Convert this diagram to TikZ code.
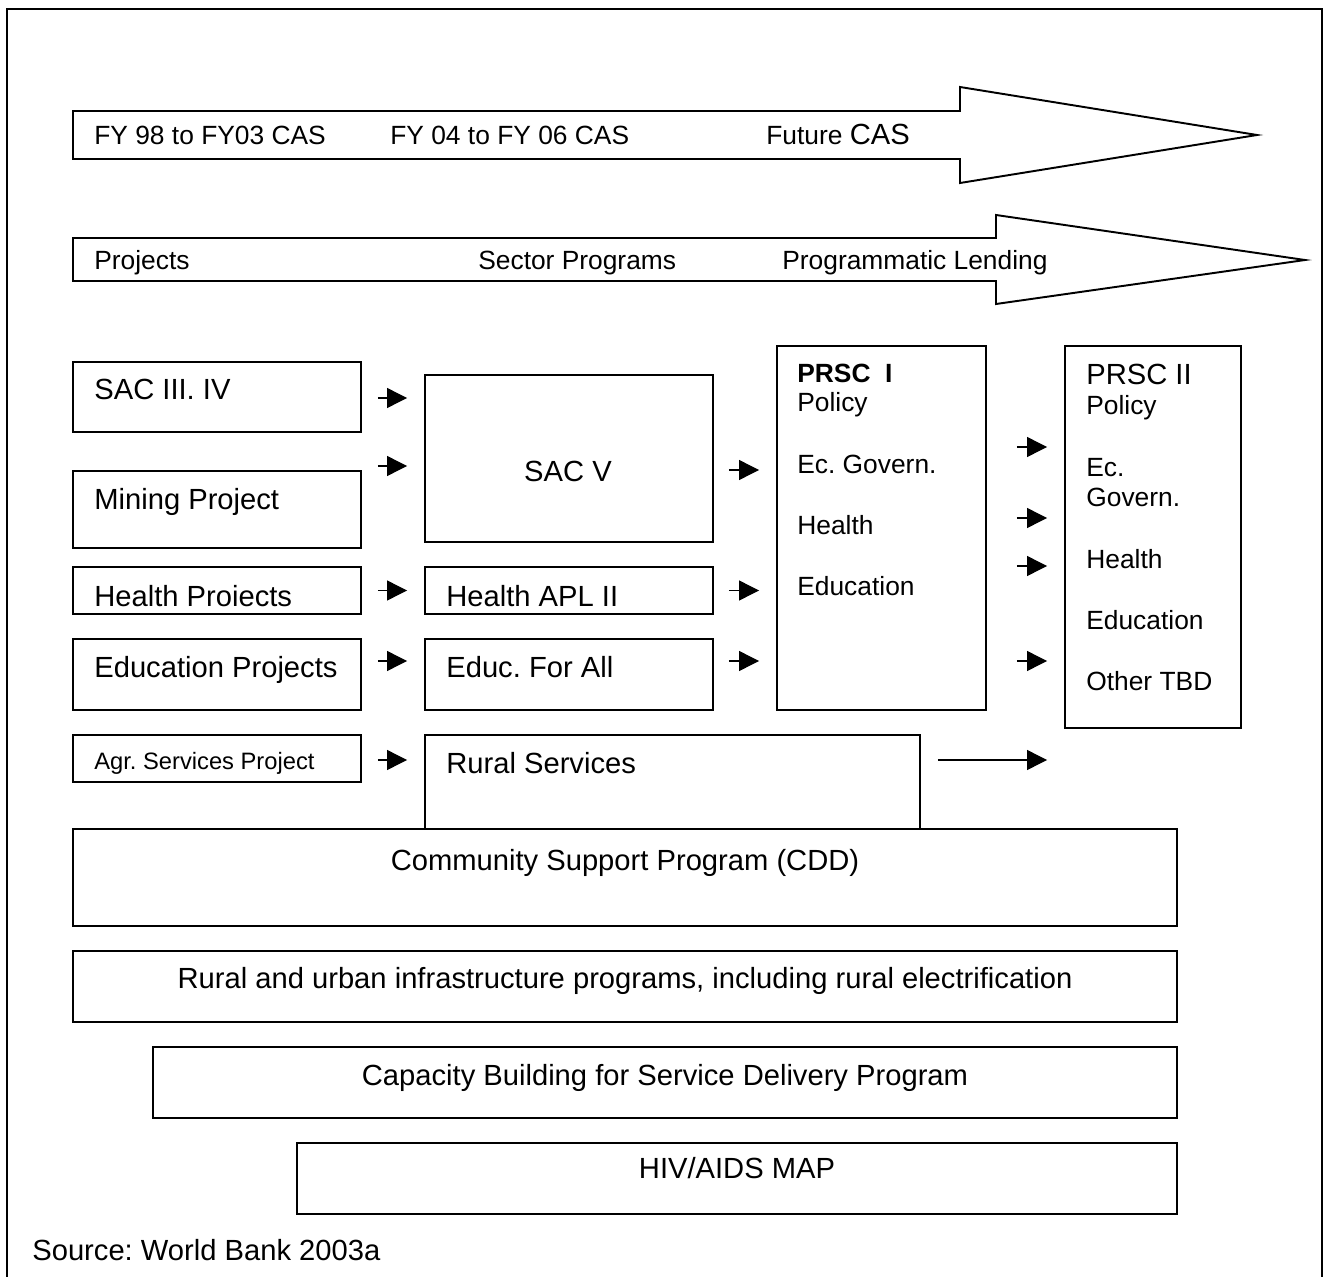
\documentclass[tikz,border=0pt]{standalone}
\usepackage{fontspec}
\setmainfont{Liberation Sans}
\usetikzlibrary{calc}
\usetikzlibrary{arrows.meta}
\usetikzlibrary{fit}
\newcommand\fsm{\fontsize{15}{18}\selectfont}
\newcommand\fbg{\fontsize{16.6}{20}\selectfont}
\newcommand\ftn{\fontsize{13.5}{16}\selectfont}
\frenchspacing

\tikzset{
  box/.style={draw=black, line width=1.1pt, inner sep=0pt},
  lbl/.style={anchor=base west, inner sep=0pt},
  ctr/.style={anchor=base, inner sep=0pt},
  arr/.style={black, line width=0.7pt, -{Triangle[length=11.3pt,width=11.3pt]}},
}

\begin{document}
\begin{tikzpicture}[x=0.02cm, y=-0.02cm]

\useasboundingbox (0,0) rectangle (1329,1277);
\draw[black, line width=1.1pt] (7,1277)--(7,9)--(1322,9)--(1322,1277);

% time line arrows
\draw[black, line width=1.1pt] (73,111)--(960,111)--(960,87)--(1257,135)--(960,183)--(960,159)--(73,159)--cycle;
\node[lbl, font=\fsm] (fy98) at (94,145) {FY 98 to FY03 CAS};
\node[lbl, font=\fsm] (fy04) at (390,145) {FY 04 to FY 06 CAS};
\node[lbl, font=\fsm] (fut) at (766,145) {Future {\fbg CAS}};

\draw[black, line width=1.1pt] (73,238)--(996,238)--(996,215)--(1305,260)--(996,304)--(996,281)--(73,281)--cycle;
\node[lbl, font=\fsm] (proj) at (94,270) {Projects};
\node[lbl, font=\fsm] (sect) at (478,270) {Sector Programs};
\node[lbl, font=\fsm] (lend) at (782,270) {Programmatic Lending};

% first column
\node[box, fit={(73,362) (361,432)}] (sac34) {};
\node[box, fit={(73,471) (361,548)}] (mine) {};
\node[box, fit={(73,567) (361,614)}] (hp) {};
\node[box, fit={(73,639) (361,710)}] (ep) {};
\node[box, fit={(73,735) (361,782)}] (agr) {};
\node[lbl, font=\fbg] (sac34t) at (94,399) {SAC III. IV};
\node[lbl, font=\fbg] (minet) at (94,509) {Mining Project};
\node[lbl, font=\fbg] (hpt) at (94,606) {Health Proiects};
\node[lbl, font=\fbg] (ept) at (94,677) {Education Projects};
\node[lbl, font=\ftn] (agrt) at (94,769) {Agr. Services Project};

% second column
\node[box, fit={(425,375) (713,542)}] (sac5) {};
\node[box, fit={(425,567) (713,614)}] (hapl) {};
\node[box, fit={(425,639) (713,710)}] (efa) {};
\node[box, fit={(425,735) (920,829)}] (rs) {};
\node[ctr, font=\fbg] (sac5t) at (568,481) {SAC V};
\node[lbl, font=\fbg] (haplt) at (446,606) {Health APL II};
\node[lbl, font=\fbg] (efat) at (446,677) {Educ. For All};
\node[lbl, font=\fbg] (rst) at (446,773) {Rural Services};

% PRSC boxes
\node[box, fit={(777,346) (986,710)}] (prsc1) {};
\node[lbl, font=\fsm\bfseries] (prsc1t) at (797,382) {PRSC\ \ I};
\foreach \t/\y in {Policy/411, Ec. Govern./473, Health/534, Education/595}
  \node[lbl, font=\fsm] (pa\y) at (797,\y) {\t};

\node[box, fit={(1065,346) (1241,728)}] (prsc2) {};
\node[lbl, font=\fbg] (prsc2t) at (1086,384) {PRSC II};
\foreach \t/\y in {Policy/414, Ec./476, Govern./506, Health/568, Education/629, Other TBD/690}
  \node[lbl, font=\fsm] (pb\y) at (1086,\y) {\t};

% arrows
\foreach \src/\dy in {sac34/1, mine/-43.5, hp/0, ep/-13.5, agr/1.5}
  \draw[arr] ($(\src.east)+(16,\dy)$) -- ($(\src.east -| sac5.west)+(-17,\dy)$);
\foreach \src/\dy in {sac5/11.5, hapl/0, efa/-13.5}
  \draw[arr] ($(\src.east)+(15,\dy)$) -- ($(\src.east -| prsc1.west)+(-17,\dy)$);
\foreach \dy in {-81,-10,38,133}
  \draw[arr] ($(prsc1.east)+(30,\dy)$) -- ($(prsc1.east -| prsc2.west)+(-17,\dy)$);
\draw[arr] ($(rs.east)+(17,-22)$) -- ($(rs.east -| prsc2.west)+(-17,-22)$);

% wide programs
\node[box, fit={(73,829) (1177,926)}] (cdd) {};
\node[box, fit={(73,951) (1177,1022)}] (infra) {};
\node[box, fit={(153,1047) (1177,1118)}] (cap) {};
\node[box, fit={(297,1143) (1177,1214)}] (hiv) {};
\node[ctr, font=\fbg] (cddt) at (625,870) {Community Support Program (CDD)};
\node[ctr, font=\fbg] (infrat) at (625,988) {Rural and urban infrastructure programs, including rural electrification};
\node[ctr, font=\fbg] (capt) at (665,1085) {Capacity Building for Service Delivery Program};
\node[ctr, font=\fbg] (hivt) at (737,1178) {HIV/AIDS MAP};

\node[lbl, font=\fbg] (src) at (32,1260) {Source: World Bank 2003a};

\end{tikzpicture}
\end{document}
